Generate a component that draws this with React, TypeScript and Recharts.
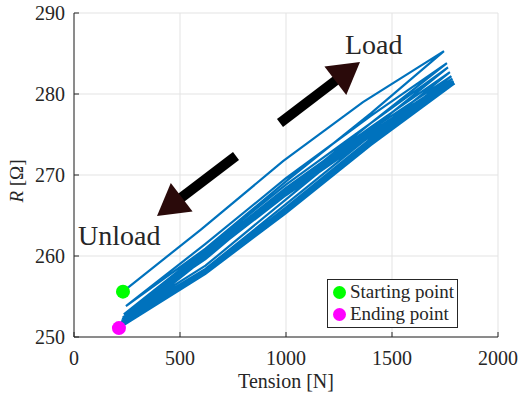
import {
    ComposedChart, Line, Scatter, XAxis, YAxis, CartesianGrid
} from "recharts";

// one continuous load / unload record
const tension = [
    231, 600, 986, 1363, 1745,
    1400, 1000, 620, 245,
    620, 1000, 1400, 1759,
    1400, 1000, 620, 235,
    620, 1000, 1400, 1764,
    1400, 1000, 620, 230,
    620, 1000, 1400, 1773,
    1400, 1000, 620, 228,
    620, 1000, 1400, 1780,
    1400, 1000, 620, 225,
    620, 1000, 1400, 1785,
    1400, 1000, 620, 222,
    620, 1000, 1400, 1790,
    1400, 1000, 620, 220,
    620, 1000, 1400, 1792,
    1400, 1000, 620, 218,
    620, 1000, 1400, 1795,
    1400, 1000, 620, 212,
];

const resistance = [
    255.6, 263.3, 271.7, 279.0, 285.3,
    277.6, 269.2, 260.9, 253.8,
    261.5, 269.6, 277.3, 283.8,
    276.4, 268.0, 259.6, 252.8,
    260.8, 268.8, 276.4, 283.3,
    275.6, 267.0, 258.8, 252.4,
    260.5, 268.4, 275.9, 282.7,
    274.9, 266.4, 258.4, 252.2,
    260.3, 268.1, 275.6, 282.2,
    274.5, 266.0, 258.2, 252.0,
    260.1, 267.9, 275.3, 281.9,
    274.2, 265.8, 258.0, 251.8,
    260.0, 267.7, 275.1, 281.6,
    274.0, 265.6, 257.9, 251.6,
    259.9, 267.6, 274.9, 281.4,
    273.8, 265.4, 257.8, 251.4,
    259.8, 267.5, 274.8, 281.3,
    273.7, 265.3, 257.8, 251.1,
];

const startPoint = [{ x: 231, y: 255.6 }];
const endPoint = [{ x: 212, y: 251.1 }];

const xTicks = [0, 500, 1000, 1500, 2000];
const yTicks = [250, 260, 270, 280, 290];

const AXIS = "#262626";
const FONT = "'Liberation Serif', 'Times New Roman', serif";

const curve = tension.map((t, i) => ({ x: t, y: resistance[i] }));

const LegendBox = () => (
    <div
        style={{
            position: "absolute",
            left: 327,
            top: 279,
            width: 131,
            height: 49,
            border: `1px solid ${AXIS}`,
            background: "#fff",
            fontFamily: FONT,
            fontSize: 19,
            color: AXIS,
            boxSizing: "border-box",
            padding: "1px 0 0 5px",
            lineHeight: "22px",
        }}
    >
        {[["#00ff00", "Starting point"], ["#ff00ff", "Ending point"]].map(([c, label]) => (
            <div key={label} style={{ display: "flex", alignItems: "center", whiteSpace: "nowrap" }}>
                <span style={{
                    display: "inline-block", width: 13, height: 13, borderRadius: "50%",
                    background: c, marginRight: 4,
                }} />
                {label}
            </div>
        ))}
    </div>
);

const Arrow = ({ x1, y1, x2, y2 }: { x1: number; y1: number; x2: number; y2: number }) => {
    const dx = x2 - x1, dy = y2 - y1;
    const len = Math.hypot(dx, dy);
    const ux = dx / len, uy = dy / len;
    const px = -uy, py = ux;
    const headLen = 31, headHalf = 18, shaft = 5;
    const bx = x2 - ux * headLen, by = y2 - uy * headLen;
    const shaftPts = [
        [x1 + px * shaft, y1 + py * shaft],
        [bx + ux * 4 + px * shaft, by + uy * 4 + py * shaft],
        [bx + ux * 4 - px * shaft, by + uy * 4 - py * shaft],
        [x1 - px * shaft, y1 - py * shaft],
    ];
    const headPts = [
        [x2, y2],
        [bx + px * headHalf, by + py * headHalf],
        [bx - px * headHalf, by - py * headHalf],
    ];
    return (
        <g>
            <polygon points={shaftPts.map(p => p.join(",")).join(" ")} fill="#000" />
            <polygon points={headPts.map(p => p.join(",")).join(" ")} fill="#2a0a0a" />
        </g>
    );
};

export default function App() {
    return (
        <div style={{
            position: "absolute", left: 0, top: 0, width: 521, height: 397,
            background: "#fff", fontFamily: FONT,
        }}>
            <ComposedChart
                width={521}
                height={397}
                data={curve}
                margin={{ top: 13, right: 23, left: 0, bottom: 0 }}
                style={{ fontFamily: FONT }}
            >
                <CartesianGrid stroke="#e3e3e3" strokeWidth={1} />
                <XAxis
                    dataKey="x"
                    type="number"
                    domain={[0, 2000]}
                    ticks={xTicks}
                    height={60}
                    stroke={AXIS}
                    tickSize={-5}
                    tickMargin={19}
                    tick={{ fill: AXIS, fontSize: 20, fontFamily: FONT }}
                    label={{
                        value: "Tension [N]",
                        position: "insideBottom",
                        offset: 9,
                        fill: AXIS,
                        fontSize: 20,
                        fontFamily: FONT,
                    }}
                />
                <XAxis
                    xAxisId="top"
                    orientation="top"
                    dataKey="x"
                    type="number"
                    domain={[0, 2000]}
                    ticks={xTicks}
                    height={0}
                    stroke={AXIS}
                    tick={false}
                />
                <YAxis
                    type="number"
                    domain={[250, 290]}
                    ticks={yTicks}
                    width={74}
                    stroke={AXIS}
                    tickSize={-5}
                    tickMargin={14}
                    tick={{ fill: AXIS, fontSize: 20, fontFamily: FONT }}
                />
                <YAxis
                    yAxisId="right"
                    orientation="right"
                    type="number"
                    domain={[250, 290]}
                    ticks={yTicks}
                    width={0}
                    stroke={AXIS}
                    tick={false}
                />
                <Line
                    type="linear"
                    dataKey="y"
                    stroke="#0072bd"
                    strokeWidth={2.2}
                    dot={false}
                    isAnimationActive={false}
                />
                <Scatter data={startPoint} dataKey="y" fill="#00ff00" shape={(p: any) => <circle cx={p.cx} cy={p.cy} r={7} fill="#00ff00" />} isAnimationActive={false} />
                <Scatter data={endPoint} dataKey="y" fill="#ff00ff" shape={(p: any) => <circle cx={p.cx} cy={p.cy} r={7} fill="#ff00ff" />} isAnimationActive={false} />
            </ComposedChart>
            <LegendBox />
            <svg width={521} height={397} style={{ position: "absolute", left: 0, top: 0, pointerEvents: "none" }}>
                <Arrow x1={280} y1={123} x2={360} y2={62} />
                <Arrow x1={236} y1={156} x2={157} y2={216} />
                <text x={345} y={54} fontFamily={FONT} fontSize={28} fill={AXIS}>Load</text>
                <text x={78} y={245} fontFamily={FONT} fontSize={28} fill={AXIS}>Unload</text>
                <text
                    transform="translate(23,181) rotate(-90)"
                    textAnchor="middle"
                    fontFamily={FONT}
                    fontSize={19}
                    fill={AXIS}
                >
                    <tspan fontStyle="italic">R</tspan> [Ω]
                </text>
            </svg>
        </div>
    );
}
